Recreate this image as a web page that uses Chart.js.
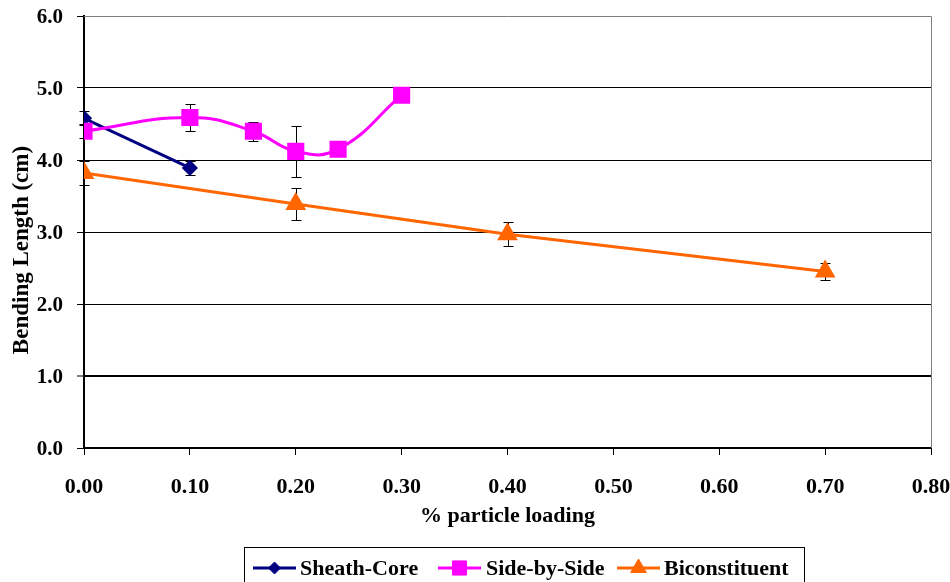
<!DOCTYPE html>
<html>
<head>
<meta charset="utf-8">
<script src="https://cdn.jsdelivr.net/npm/chart.js@4/dist/chart.umd.min.js"></script>
<style>
  html, body { margin: 0; padding: 0; background: #fff; }
  #wrap { width: 950px; height: 582px; }
</style>
</head>
<body>
<div id="wrap"><canvas id="c" width="950" height="582"></canvas></div>
<script>
// Bending length vs particle loading for three fibre types
const sheathLoading = [0.00, 0.10];
const sheathLength  = [4.58, 3.89];
const sheathErr     = [0.10, 0.10];

const sideLoading = [0.00, 0.10, 0.16, 0.20, 0.24, 0.30];
const sideLength  = [4.40, 4.59, 4.40, 4.12, 4.15, 4.90];
const sideErr     = [0.10, 0.19, 0.13, 0.35, 0.10, 0.00];

const biconLoading = [0.00, 0.20, 0.40, 0.70];
const biconLength  = [3.82, 3.39, 2.97, 2.45];
const biconErr     = [0.17, 0.22, 0.165, 0.12];

const seriesNames = ['Sheath-Core', 'Side-by-Side', 'Biconstituent'];
const xTickValues = [0, 0.1, 0.2, 0.3, 0.4, 0.5, 0.6, 0.7, 0.8];
const yTickValues = [0, 1, 2, 3, 4, 5, 6];

const FONT = "'Liberation Serif', 'Times New Roman', serif";

function points(xs, ys) { return xs.map((x, i) => ({ x: x, y: ys[i] })); }

function drawMarker(ctx, style, r, x, y) {
  Chart.helpers.drawPoint(ctx, { pointStyle: style, radius: r, rotation: 0, borderWidth: 1 }, x, y);
}

// vertical error bars with caps, drawn under the lines and markers
const errorBars = {
  id: 'errorBars',
  beforeDatasetsDraw(chart) {
    const ctx = chart.ctx;
    const xs = chart.scales.x, ys = chart.scales.y;
    ctx.save();
    ctx.strokeStyle = '#000';
    ctx.lineWidth = 1;
    chart.data.datasets.forEach(ds => {
      ds.data.forEach((p, i) => {
        const e = ds.errors[i];
        if (!e) return;
        const px = Math.round(xs.getPixelForValue(p.x)) + 0.5;
        const top = Math.round(ys.getPixelForValue(p.y + e)) + 0.5;
        const bot = Math.round(ys.getPixelForValue(p.y - e)) + 0.5;
        ctx.beginPath();
        ctx.moveTo(px, top); ctx.lineTo(px, bot);
        ctx.moveTo(px - 5, top); ctx.lineTo(px + 5, top);
        ctx.moveTo(px - 5, bot); ctx.lineTo(px + 5, bot);
        ctx.stroke();
      });
    });
    ctx.restore();
  }
};

// grey frame on top and right of the plot area, y-axis title, boxed legend
const frameAndLegend = {
  id: 'frameAndLegend',
  beforeDatasetsDraw(chart) {
    const { ctx, chartArea: a } = chart;
    ctx.save();
    ctx.strokeStyle = '#808080';
    ctx.lineWidth = 1;
    ctx.beginPath();
    ctx.moveTo(a.left, Math.round(a.top) + 0.5);
    ctx.lineTo(Math.round(a.right) + 0.5, Math.round(a.top) + 0.5);
    ctx.lineTo(Math.round(a.right) + 0.5, a.bottom);
    ctx.stroke();
    ctx.restore();
  },
  afterDraw(chart) {
    const ctx = chart.ctx;
    ctx.save();
    // y-axis title
    ctx.translate(22, 250);
    ctx.rotate(-Math.PI / 2);
    ctx.fillStyle = '#000';
    ctx.font = 'bold 23px ' + FONT;
    ctx.textAlign = 'center';
    ctx.textBaseline = 'middle';
    ctx.fillText('Bending Length (cm)', 0, 0);
    ctx.restore();

    // legend box
    ctx.save();
    ctx.strokeStyle = '#000';
    ctx.lineWidth = 1;
    ctx.strokeRect(244.5, 547.5, 560, 60);
    const entries = [
      { lx: 253, tx: 300 },
      { lx: 438, tx: 486 },
      { lx: 617, tx: 664 }
    ];
    const cy = 568;
    chart.data.datasets.forEach((ds, i) => {
      const e = entries[i];
      ctx.strokeStyle = ds.borderColor;
      ctx.lineWidth = 3;
      ctx.beginPath();
      ctx.moveTo(e.lx, cy); ctx.lineTo(e.lx + 43, cy);
      ctx.stroke();
      ctx.fillStyle = ds.pointBackgroundColor;
      ctx.strokeStyle = ds.pointBorderColor;
      ctx.lineWidth = 1;
      drawMarker(ctx, ds.pointStyle, ds.pointRadius, e.lx + 21.5, cy);
      ctx.fillStyle = '#000';
      ctx.font = 'bold 22px ' + FONT;
      ctx.textAlign = 'left';
      ctx.textBaseline = 'middle';
      ctx.fillText(ds.label, e.tx, cy + 1);
    });
    ctx.restore();
  }
};

const chart = new Chart(document.getElementById('c'), {
  type: 'line',
  data: {
    datasets: [
      {
        label: seriesNames[0],
        data: points(sheathLoading, sheathLength),
        errors: sheathErr,
        borderColor: '#000080',
        backgroundColor: '#000080',
        pointBackgroundColor: '#000080',
        pointBorderColor: '#000080',
        pointStyle: 'rectRot',
        pointRadius: 6,
        borderWidth: 3,
        tension: 0,
        order: 3
      },
      {
        label: seriesNames[1],
        data: points(sideLoading, sideLength),
        errors: sideErr,
        borderColor: '#FF00FF',
        backgroundColor: '#FF00FF',
        pointBackgroundColor: '#FF00FF',
        pointBorderColor: '#FF00FF',
        pointStyle: 'rect',
        pointRadius: 10,
        borderWidth: 3,
        tension: 0.45,
        order: 2
      },
      {
        label: seriesNames[2],
        data: points(biconLoading, biconLength),
        errors: biconErr,
        borderColor: '#FF6600',
        backgroundColor: '#FF6600',
        pointBackgroundColor: '#FF6600',
        pointBorderColor: '#FF6600',
        pointStyle: 'triangle',
        pointRadius: 9,
        borderWidth: 3,
        tension: 0,
        order: 1
      }
    ]
  },
  options: {
    responsive: false,
    animation: false,
    events: [],
    layout: { padding: { left: 0, top: 16, right: 19, bottom: 0 } },
    plugins: { legend: { display: false }, tooltip: { enabled: false } },
    scales: {
      x: {
        type: 'linear',
        min: 0, max: 0.8,
        afterFit(s) { s.height = 134; s.paddingLeft = 0; s.paddingRight = 0; },
        afterBuildTicks(s) { s.ticks = xTickValues.map(v => ({ value: v })); },
        grid: { drawOnChartArea: false, drawTicks: true, tickLength: 7, tickColor: '#000', tickWidth: 1 },
        border: { color: '#000', width: 2 },
        ticks: {
          color: '#000',
          font: { family: FONT, size: 22, weight: 'bold' },
          padding: 19,
          maxRotation: 0,
          autoSkip: false,
          callback: v => v.toFixed(2)
        },
        title: {
          display: true,
          text: '% particle loading',
          color: '#000',
          font: { family: FONT, size: 22, weight: 'bold' },
          padding: { top: 0, bottom: 52 }
        }
      },
      y: {
        min: 0, max: 6,
        afterFit(s) { s.width = 84; s.paddingTop = 0; s.paddingBottom = 0; },
        afterBuildTicks(s) { s.ticks = yTickValues.map(v => ({ value: v })); },
        grid: {
          color: ctx => ctx.tick && ctx.tick.value === 6 ? 'rgba(0,0,0,0)' : '#000',
          lineWidth: ctx => ctx.tick && ctx.tick.value === 1 ? 2 : 1,
          tickLength: 7,
          tickColor: '#000',
          tickWidth: 1
        },
        border: { color: '#000', width: 2 },
        ticks: {
          color: '#000',
          font: { family: FONT, size: 21, weight: 'bold' },
          padding: 14,
          labelOffset: 2,
          autoSkip: false,
          callback: v => v.toFixed(1)
        }
      }
    }
  },
  plugins: [errorBars, frameAndLegend]
});
</script>
</body>
</html>
